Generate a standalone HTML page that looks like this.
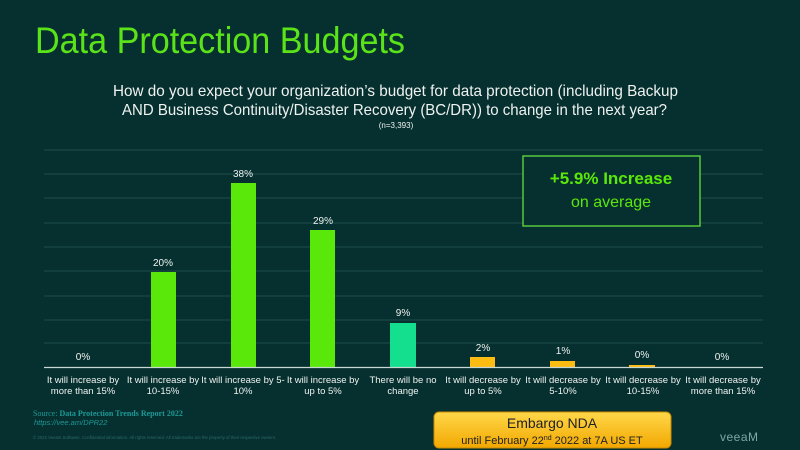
<!DOCTYPE html>
<html><head><meta charset="utf-8"><style>
html,body{margin:0;padding:0;background:#05302f;}
svg{display:block;font-family:"Liberation Sans",sans-serif;}
</style></head><body>
<svg width="800" height="450" viewBox="0 0 800 450" xmlns="http://www.w3.org/2000/svg">
<defs>
<linearGradient id="yg" x1="0" y1="0" x2="0" y2="1"><stop offset="0" stop-color="#ffd84a"/><stop offset="1" stop-color="#f2a800"/></linearGradient>
</defs>
<rect width="800" height="450" fill="#06302f"/>
<text x="35" y="53" font-size="37" fill="#5be31a" textLength="370" lengthAdjust="spacingAndGlyphs">Data Protection Budgets</text>
<text x="113" y="96" font-size="16" fill="#eef2f0" textLength="565" lengthAdjust="spacingAndGlyphs">How do you expect your organization’s budget for data protection (including Backup</text>
<text x="122" y="115" font-size="16" fill="#eef2f0" textLength="545" lengthAdjust="spacingAndGlyphs">AND Business Continuity/Disaster Recovery (BC/DR)) to change in the next year?</text>
<text x="396" y="128" font-size="8" fill="#eef2f0" text-anchor="middle">(n=3,393)</text>
<g stroke="#1d4c4c" stroke-width="1">
<line x1="44" x2="763" y1="150" y2="150"/><line x1="44" x2="763" y1="174" y2="174"/><line x1="44" x2="763" y1="198" y2="198"/><line x1="44" x2="763" y1="223" y2="223"/><line x1="44" x2="763" y1="247" y2="247"/><line x1="44" x2="763" y1="271" y2="271"/><line x1="44" x2="763" y1="296" y2="296"/><line x1="44" x2="763" y1="320" y2="320"/><line x1="44" x2="763" y1="343" y2="343"/>
</g>
<g>
<rect x="151" y="272" width="25" height="95" fill="#5ae80a"/>
<rect x="231" y="183" width="25" height="184" fill="#5ae80a"/>
<rect x="310" y="230" width="25" height="137" fill="#5ae80a"/>
<rect x="390" y="323" width="26" height="44" fill="#14df8e"/>
<rect x="470" y="357" width="25" height="10" fill="#fcbc12"/>
<rect x="550" y="361" width="25" height="6" fill="#fcbc12"/>
<rect x="629" y="365" width="26" height="2" fill="#fcbc12"/>
</g>
<line x1="44" x2="763" y1="367.5" y2="367.5" stroke="#c8d8d4" stroke-width="1.2"/>
<g font-size="10" fill="#eef2f0" text-anchor="middle">
<text x="83" y="360">0%</text><text x="163" y="266">20%</text><text x="243" y="177">38%</text><text x="323" y="224">29%</text><text x="403" y="316">9%</text><text x="483" y="351">2%</text><text x="563" y="354">1%</text><text x="642" y="358">0%</text><text x="722" y="360">0%</text>
</g>
<g font-size="9.5" fill="#eef2f0" text-anchor="middle">
<text x="83" y="383">It will increase by</text><text x="83" y="394">more than 15%</text>
<text x="163" y="383">It will increase by</text><text x="163" y="394">10-15%</text>
<text x="243" y="383">It will increase by 5-</text><text x="243" y="394">10%</text>
<text x="323" y="383">It will increase by</text><text x="323" y="394">up to 5%</text>
<text x="403" y="383">There will be no</text><text x="403" y="394">change</text>
<text x="483" y="383">It will decrease by</text><text x="483" y="394">up to 5%</text>
<text x="563" y="383">It will decrease by</text><text x="563" y="394">5-10%</text>
<text x="643" y="383">It will decrease by</text><text x="643" y="394">10-15%</text>
<text x="723" y="383">It will decrease by</text><text x="723" y="394">more than 15%</text>
</g>
<rect x="523" y="156" width="177" height="70" fill="#06302f" stroke="#56c83a" stroke-width="1.5"/>
<text x="611" y="184" font-size="17" font-weight="bold" fill="#5ae80a" text-anchor="middle">+5.9% Increase</text>
<text x="611" y="207" font-size="16" fill="#5ae80a" text-anchor="middle">on average</text>
<text x="33" y="416" font-size="8" font-family="Liberation Serif,serif" fill="#1c9a98">Source: <tspan font-weight="bold">Data Protection Trends Report 2022</tspan></text>
<text x="34" y="425" font-size="7.5" font-style="italic" fill="#1c9a98">https://vee.am/DPR22</text>
<text x="33" y="439" font-size="4.3" fill="#2a6a68">© 2022 Veeam Software. Confidential information. All rights reserved. All trademarks are the property of their respective owners.</text>
<rect x="434" y="412" width="237" height="36" rx="5" fill="url(#yg)" stroke="#c98a00" stroke-width="1"/>
<text x="552" y="428" font-size="14" fill="#222" text-anchor="middle">Embargo NDA</text>
<text x="552" y="444" font-size="11" fill="#222" text-anchor="middle">until February 22<tspan font-size="7" dy="-4">nd</tspan><tspan dy="4"> 2022 at 7A US ET</tspan></text>
<text x="720" y="441" font-size="12" fill="#7fa6a8" letter-spacing="0.5">veeaM</text>
</svg>
</body></html>
